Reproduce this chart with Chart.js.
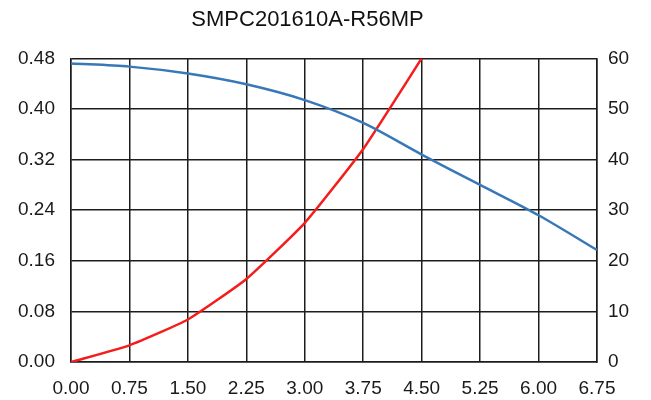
<!DOCTYPE html>
<html>
<head>
<meta charset="utf-8">
<script src="https://cdn.jsdelivr.net/npm/chart.js@4"></script>
<style>
  body { margin: 0; background: #fff; }
  #wrap { width: 651px; height: 400px; }
</style>
</head>
<body>
<div id="wrap"><canvas id="chart" width="651" height="400"></canvas></div>
<script>
// valores
const currentX = [0, 0.75, 1.5, 2.25, 3.0, 3.75, 4.5, 5.25, 6.0, 6.75];
const inductance = [0.472, 0.467, 0.456, 0.439, 0.414, 0.378, 0.328, 0.280, 0.232, 0.177];
const tempX = [0, 0.75, 1.5, 2.25, 3.0, 3.75, 4.5];
const tempRise = [0, 3.3, 8.4, 16.4, 27.5, 42.1, 60];
const leftTicks = [0, 0.08, 0.16, 0.24, 0.32, 0.40, 0.48];

const gridColor = '#1c1c1c';
const fontSpec = { family: 'Liberation Sans, Arial, sans-serif', size: 19 };

// desloca o título um pouco para a esquerda, como no original
const shiftTitle = {
    id: 'shiftTitle',
    afterLayout(chart) {
        const t = chart.titleBlock;
        if (t) { t.left -= 18; t.right -= 18; }
    }
};

const ctx = document.getElementById('chart').getContext('2d');
new Chart(ctx, {
    type: 'line',
    data: {
        datasets: [{
            label: 'L',
            data: currentX.map((x, i) => ({ x: x, y: inductance[i] })),
            borderColor: '#3878b8',
            borderWidth: 2.5,
            pointRadius: 0,
            tension: 0.3,
            yAxisID: 'y'
        }, {
            label: 'T',
            data: tempX.map((x, i) => ({ x: x, y: tempRise[i] })),
            borderColor: '#f51c1c',
            borderWidth: 2.5,
            pointRadius: 0,
            tension: 0.15,
            yAxisID: 'y2'
        }]
    },
    options: {
        responsive: false,
        animation: false,
        layout: { padding: 0 },
        plugins: {
            legend: { display: false },
            tooltip: { enabled: false },
            title: {
                display: true,
                text: 'SMPC201610A-R56MP',
                color: '#111',
                font: { family: 'Liberation Sans, Arial, sans-serif', size: 22, weight: 'normal' },
                padding: { top: 7, bottom: 25 }
            }
        },
        scales: {
            x: {
                type: 'linear',
                min: 0,
                max: 6.75,
                afterBuildTicks: axis => { axis.ticks = currentX.map(v => ({ value: v })); },
                ticks: {
                    color: '#1a1a1a',
                    font: fontSpec,
                    padding: 15,
                    maxRotation: 0,
                    callback: v => v.toFixed(2)
                },
                grid: { color: gridColor, lineWidth: 1.5, drawTicks: false },
                border: { color: gridColor, width: 1.5 },
                afterFit: axis => { axis.height = 38; }
            },
            y: {
                position: 'left',
                min: 0,
                max: 0.48,
                afterBuildTicks: axis => { axis.ticks = leftTicks.map(v => ({ value: v })); },
                ticks: {
                    color: '#1a1a1a',
                    font: fontSpec,
                    padding: 16,
                    callback: v => v.toFixed(2)
                },
                grid: { color: gridColor, lineWidth: 1.5, drawTicks: false },
                border: { color: gridColor, width: 1.5 },
                afterFit: axis => { axis.width = 71; }
            },
            y2: {
                position: 'right',
                min: 0,
                max: 60,
                ticks: {
                    stepSize: 10,
                    color: '#1a1a1a',
                    font: fontSpec,
                    padding: 11
                },
                grid: { drawOnChartArea: false, drawTicks: false },
                border: { color: gridColor, width: 1.5 },
                afterFit: axis => { axis.width = 54; }
            }
        }
    },
    plugins: [shiftTitle]
});
</script>
</body>
</html>
